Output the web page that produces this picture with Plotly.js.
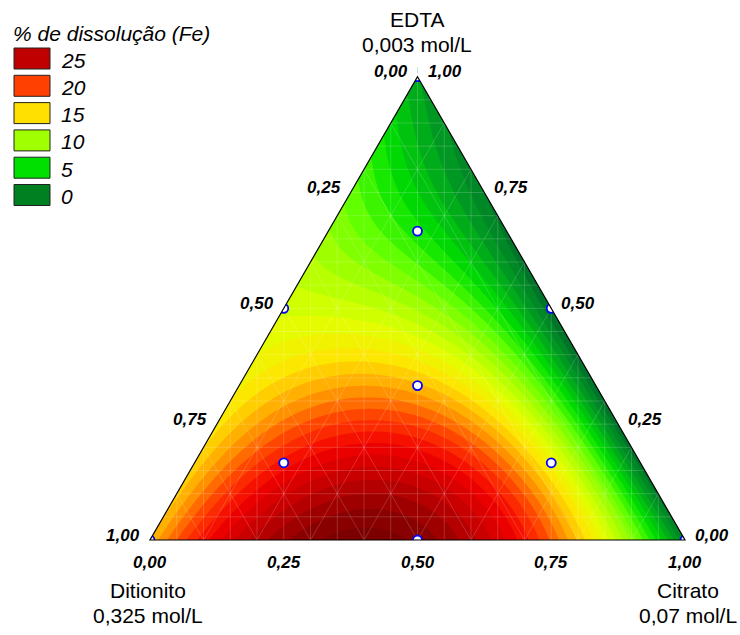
<!DOCTYPE html>
<html><head><meta charset="utf-8">
<script src="https://cdn.plot.ly/plotly-3.0.1.min.js"></script>
<style>html,body{margin:0;padding:0;background:#fff}#chart{width:740px;height:635px}</style>
</head><body><div id="chart"></div>
<script>
// ---- DATA ----
const componentNames = ["Ditionito", "Citrato", "EDTA"];
const componentConc = ["0,325 mol/L", "0,07 mol/L", "0,003 mol/L"];
// Mixture design points (fractions): Ditionito, Citrato, EDTA
const designDit  = [1, 0, 0, 0.5, 0.5, 0,   1/3, 2/3, 1/6, 1/6];
const designCit  = [0, 1, 0, 0.5, 0,   0.5, 1/3, 1/6, 2/3, 1/6];
const designEdta = [0, 0, 1, 0,   0.5, 0.5, 1/3, 1/6, 1/6, 2/3];
// % dissolução (Fe) estimated at each design point (read from the colour map)
const dissolution = [16, 0, 2, 27.5, 11.5, -1.2, 15.3, 22, 14, 6];
const tickValues = [0, 0.25, 0.5, 0.75, 1];
const tickLabels = ["0,00", "0,25", "0,50", "0,75", "1,00"];
const legendTitle = "% de dissolução (Fe)";
const legendValues = ["25", "20", "15", "10", "5", "0"];
const legendColors = ["#c00000", "#ff4000", "#ffe000", "#a0ff00", "#00e000", "#008020"];

// ---- MODEL (Scheffé polynomial, least-squares fit to the design points) ----
function terms(d, c, e) {
  return [d, c, e, d*c, d*e, c*e, d*d*c*e, d*c*c*e, d*c*e*e];
}
function solve(A, b) {
  const n = b.length; const M = A.map((r, i) => r.concat([b[i]]));
  for (let k = 0; k < n; k++) {
    let p = k; for (let i = k+1; i < n; i++) if (Math.abs(M[i][k]) > Math.abs(M[p][k])) p = i;
    [M[k], M[p]] = [M[p], M[k]];
    for (let i = k+1; i < n; i++) { const f = M[i][k] / M[k][k]; for (let j = k; j <= n; j++) M[i][j] -= f * M[k][j]; }
  }
  const x = new Array(n).fill(0);
  for (let i = n-1; i >= 0; i--) { let s = M[i][n]; for (let j = i+1; j < n; j++) s -= M[i][j]*x[j]; x[i] = s / M[i][i]; }
  return x;
}
const X = designDit.map((d, i) => terms(d, designCit[i], designEdta[i]));
const nT = X[0].length;
const XtX = [], Xty = [];
for (let a = 0; a < nT; a++) {
  XtX.push([]); let s = 0;
  for (let b = 0; b < nT; b++) { let t = 0; for (let r = 0; r < X.length; r++) t += X[r][a] * X[r][b]; XtX[a].push(t); }
  for (let r = 0; r < X.length; r++) s += X[r][a] * dissolution[r];
  Xty.push(s);
}
const coef = solve(XtX, Xty);
const model = (d, c, e) => terms(d, c, e).reduce((s, t, i) => s + t * coef[i], 0);

const H = Math.sqrt(3) / 2;
const toX = (d, c, e) => c + e / 2;
const toY = (d, c, e) => e * H;

const xs = [], ys = [];
for (let x = -0.03; x <= 1.031; x += 0.004) xs.push(x);
for (let y = -0.02; y <= 0.885; y += 0.004) ys.push(y);
const Z = ys.map(y => xs.map(x => { const e = y / H, c = x - e / 2, d = 1 - c - e; return model(d, c, e); }));

const colorscale = [
  [-2.5, "#004d2e"], [0, "#007d28"], [2, "#00a020"], [5, "#00e000"], [7.5, "#5cff00"],
  [10, "#a8ff00"], [12.5, "#e2ff00"], [15, "#ffe400"], [17.5, "#ff9c00"], [20, "#ff4000"],
  [22.5, "#f20000"], [25, "#c80000"], [28, "#880000"], [30, "#700000"]
];
const zmin = -2.5, zmax = 30;
const cs = colorscale.map(([v, col]) => [(v - zmin) / (zmax - zmin), col]);

const FONT = "Liberation Sans, Arial, sans-serif";
const traces = [
  { type: "contour", x: xs, y: ys, z: Z, zmin: zmin, zmax: zmax, zauto: false, colorscale: cs,
    showscale: false, hoverinfo: "skip", line: { width: 0 },
    contours: { start: -3, end: 31, size: 1, coloring: "fill", showlines: false } }
];
// faint mesh lines (clipped by the white masks)
const meshX = [], meshY = [];
for (let k = 1; k < 20; k++) {
  const v = k * 0.05;
  meshX.push(-0.1, 1.1, null); meshY.push(v * H, v * H, null);
  meshX.push(v, v, null); meshY.push(-0.1, 1, null);
  if (k % 2 === 0) {
    meshX.push(v, v + 0.6, null); meshY.push(0, 1.2 * H, null);
    meshX.push(v, v - 0.6, null); meshY.push(0, 1.2 * H, null);
  }
}
traces.push({ type: "scatter", mode: "lines", x: meshX, y: meshY, hoverinfo: "skip",
  line: { color: "rgba(255,255,255,0.22)", width: 0.8 } });
traces.push({ type: "scatter", mode: "markers", hoverinfo: "skip",
  x: designDit.map((d, i) => toX(d, designCit[i], designEdta[i])),
  y: designDit.map((d, i) => toY(d, designCit[i], designEdta[i])),
  marker: { size: 9, color: "#ffffff", line: { color: "#0000ff", width: 1.8 } } });

const W = 740, Hh = 635;
const px = v => v / W, py = v => 1 - v / Hh;
const shapes = [
  { type: "rect", xref: "x", yref: "y", x0: -1, x1: 2, y0: -1, y1: 0, fillcolor: "#fff", line: { width: 0 }, layer: "above" },
  { type: "path", xref: "x", yref: "y", path: `M 0 0 L 0.5 ${H} L 0.5 2 L -1 2 L -1 0 Z`, fillcolor: "#fff", line: { width: 0 }, layer: "above" },
  { type: "path", xref: "x", yref: "y", path: `M 1 0 L 0.5 ${H} L 0.5 2 L 2 2 L 2 0 Z`, fillcolor: "#fff", line: { width: 0 }, layer: "above" },
  { type: "path", xref: "x", yref: "y", path: `M 0 0 L 1 0 L 0.5 ${H} Z`, line: { color: "#000", width: 1.2 }, layer: "above" }
];
const annotations = [];
const tickFont = { family: FONT, size: 17, color: "#000", weight: "bold", style: "italic" };
tickValues.forEach((v, i) => {
  annotations.push({ xref: "x", yref: "y", x: toX(v, 0, 1 - v), y: toY(v, 0, 1 - v), text: tickLabels[i],
    showarrow: false, xanchor: "center", yanchor: "middle", xshift: -27, yshift: 5, font: tickFont });
  annotations.push({ xref: "x", yref: "y", x: toX(0, 1 - v, v), y: toY(0, 1 - v, v), text: tickLabels[i],
    showarrow: false, xanchor: "center", yanchor: "middle", xshift: 27, yshift: 5, font: tickFont });
  annotations.push({ xref: "x", yref: "y", x: toX(1 - v, v, 0), y: toY(1 - v, v, 0), text: tickLabels[i],
    showarrow: false, xanchor: "center", yanchor: "middle", yshift: -22, font: tickFont });
});
const titleFont = { family: FONT, size: 21, color: "#000" };
const titlePos = [[148, 590, 615], [688, 590, 615], [417, 19, 45]];
componentNames.forEach((n, i) => {
  annotations.push({ xref: "paper", yref: "paper", x: px(titlePos[i][0]), y: py(titlePos[i][1]), text: n,
    showarrow: false, xanchor: "center", yanchor: "middle", font: titleFont });
  annotations.push({ xref: "paper", yref: "paper", x: px(titlePos[i][0]), y: py(titlePos[i][2]), text: componentConc[i],
    showarrow: false, xanchor: "center", yanchor: "middle", font: titleFont });
});
annotations.push({ xref: "paper", yref: "paper", x: px(11), y: py(33), text: legendTitle, showarrow: false,
  xanchor: "left", yanchor: "middle", font: { family: FONT, size: 21, color: "#000", style: "italic" } });
legendValues.forEach((lab, i) => {
  const y0 = 48 + i * 27.3;
  shapes.push({ type: "rect", xref: "paper", yref: "paper", x0: px(14), x1: px(50), y0: py(y0), y1: py(y0 + 21),
    fillcolor: legendColors[i], line: { color: "#222", width: 1 } });
  annotations.push({ xref: "paper", yref: "paper", x: px(59), y: py(y0 + 12), text: lab, showarrow: false,
    xanchor: "left", yanchor: "middle", font: { family: FONT, size: 21, color: "#000", style: "italic" } });
});

const layout = {
  width: W, height: Hh, margin: { l: 0, r: 0, t: 0, b: 0 }, showlegend: false,
  paper_bgcolor: "#fff", plot_bgcolor: "#fff",
  xaxis: { range: [-150 / 535, 590 / 535], visible: false, fixedrange: true },
  yaxis: { range: [-95 / 535, 540 / 535], visible: false, fixedrange: true },
  shapes: shapes, annotations: annotations
};
Plotly.newPlot("chart", traces, layout, { displayModeBar: false, staticPlot: true });
</script></body></html>
